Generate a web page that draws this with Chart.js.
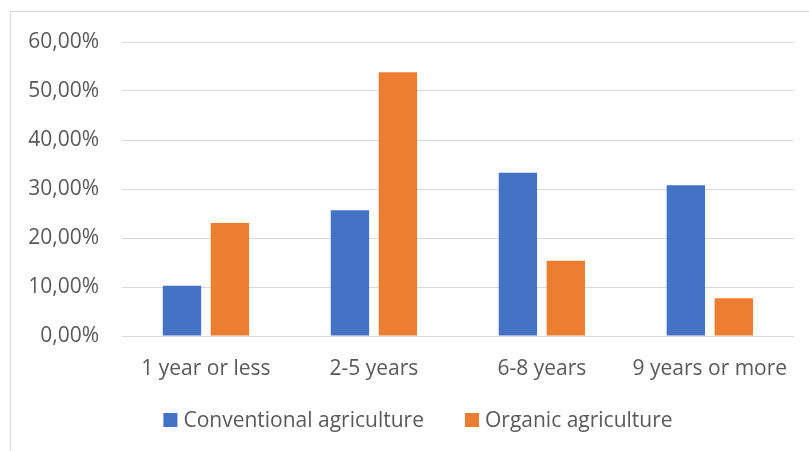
<!DOCTYPE html>
<html>
<head>
<meta charset="utf-8">
<script src="https://cdn.jsdelivr.net/npm/chart.js@4"></script>
<style>
  html, body { margin: 0; padding: 0; background: #ffffff; overflow: hidden; }
  #frame { position: absolute; left: 10px; top: 11px; width: 900px; height: 600px; border: 1px solid #d9d9d9; }
  #wrap { position: absolute; left: 0; top: 0; width: 809px; height: 451px; }
</style>
</head>
<body>
<div id="frame"></div>
<div id="wrap"><canvas id="chart" width="809" height="451"></canvas></div>
<script>
// Years of experience, share of respondents per farming type
const categories = ['1 year or less', '2-5 years', '6-8 years', '9 years or more'];
const conventional = [10.26, 25.64, 33.33, 30.77];
const organic = [23.08, 53.85, 15.38, 7.69];
const seriesNames = ['Conventional agriculture', 'Organic agriculture'];
const yTickValues = [0, 10, 20, 30, 40, 50, 60];

const FONT = '"Open Sans", "Liberation Sans", sans-serif';
const TEXT = '#595959';
const GRID = '#d9d9d9';

const fmtPct = v => v.toFixed(2).replace('.', ',') + '%';

// Legend drawn below the plot: square swatch + label, centred in the frame
const bottomLegend = {
  id: 'bottomLegend',
  afterDraw(chart) {
    const ctx = chart.ctx;
    ctx.save();
    ctx.font = '21px ' + FONT;
    ctx.fillStyle = TEXT;
    ctx.textBaseline = 'alphabetic';
    const box = 14, gap = 6, itemGap = 41;
    const sets = chart.data.datasets;
    let total = 0;
    sets.forEach((ds, i) => {
      total += box + gap + ctx.measureText(ds.label).width;
      if (i < sets.length - 1) total += itemGap;
    });
    let x = 418 - total / 2;
    const boxTop = 413, baseline = 427;
    sets.forEach(ds => {
      ctx.fillStyle = ds.backgroundColor;
      ctx.fillRect(x, boxTop, box, box);
      x += box + gap;
      ctx.fillStyle = TEXT;
      ctx.fillText(ds.label, x, baseline);
      x += ctx.measureText(ds.label).width + itemGap;
    });
    ctx.restore();
  }
};

new Chart(document.getElementById('chart'), {
  type: 'bar',
  data: {
    labels: categories,
    datasets: [
      { label: seriesNames[0], data: conventional, backgroundColor: '#4472C4' },
      { label: seriesNames[1], data: organic, backgroundColor: '#ED7D31' }
    ]
  },
  options: {
    responsive: false,
    animation: false,
    events: [],
    datasets: { bar: { categoryPercentage: 0.571, barPercentage: 0.8 } },
    layout: { padding: { left: 22, right: 15, top: 42, bottom: 55 } },
    plugins: {
      legend: { display: false },
      tooltip: { enabled: false }
    },
    scales: {
      x: {
        grid: { display: false, drawTicks: false },
        border: { display: true, color: GRID, width: 1 },
        ticks: { color: TEXT, font: { family: FONT, size: 21 }, padding: 20, maxRotation: 0 },
        afterFit(scale) { scale.height = 60; }
      },
      y: {
        min: 0,
        max: 60,
        afterBuildTicks(scale) { scale.ticks = yTickValues.map(v => ({ value: v })); },
        grid: { color: GRID, lineWidth: 1, drawTicks: false },
        border: { display: false },
        ticks: { color: TEXT, font: { family: FONT, size: 21 }, padding: 23, callback: v => fmtPct(v) },
        afterFit(scale) { scale.width = 100; }
      }
    }
  },
  plugins: [bottomLegend]
});
</script>
</body>
</html>
